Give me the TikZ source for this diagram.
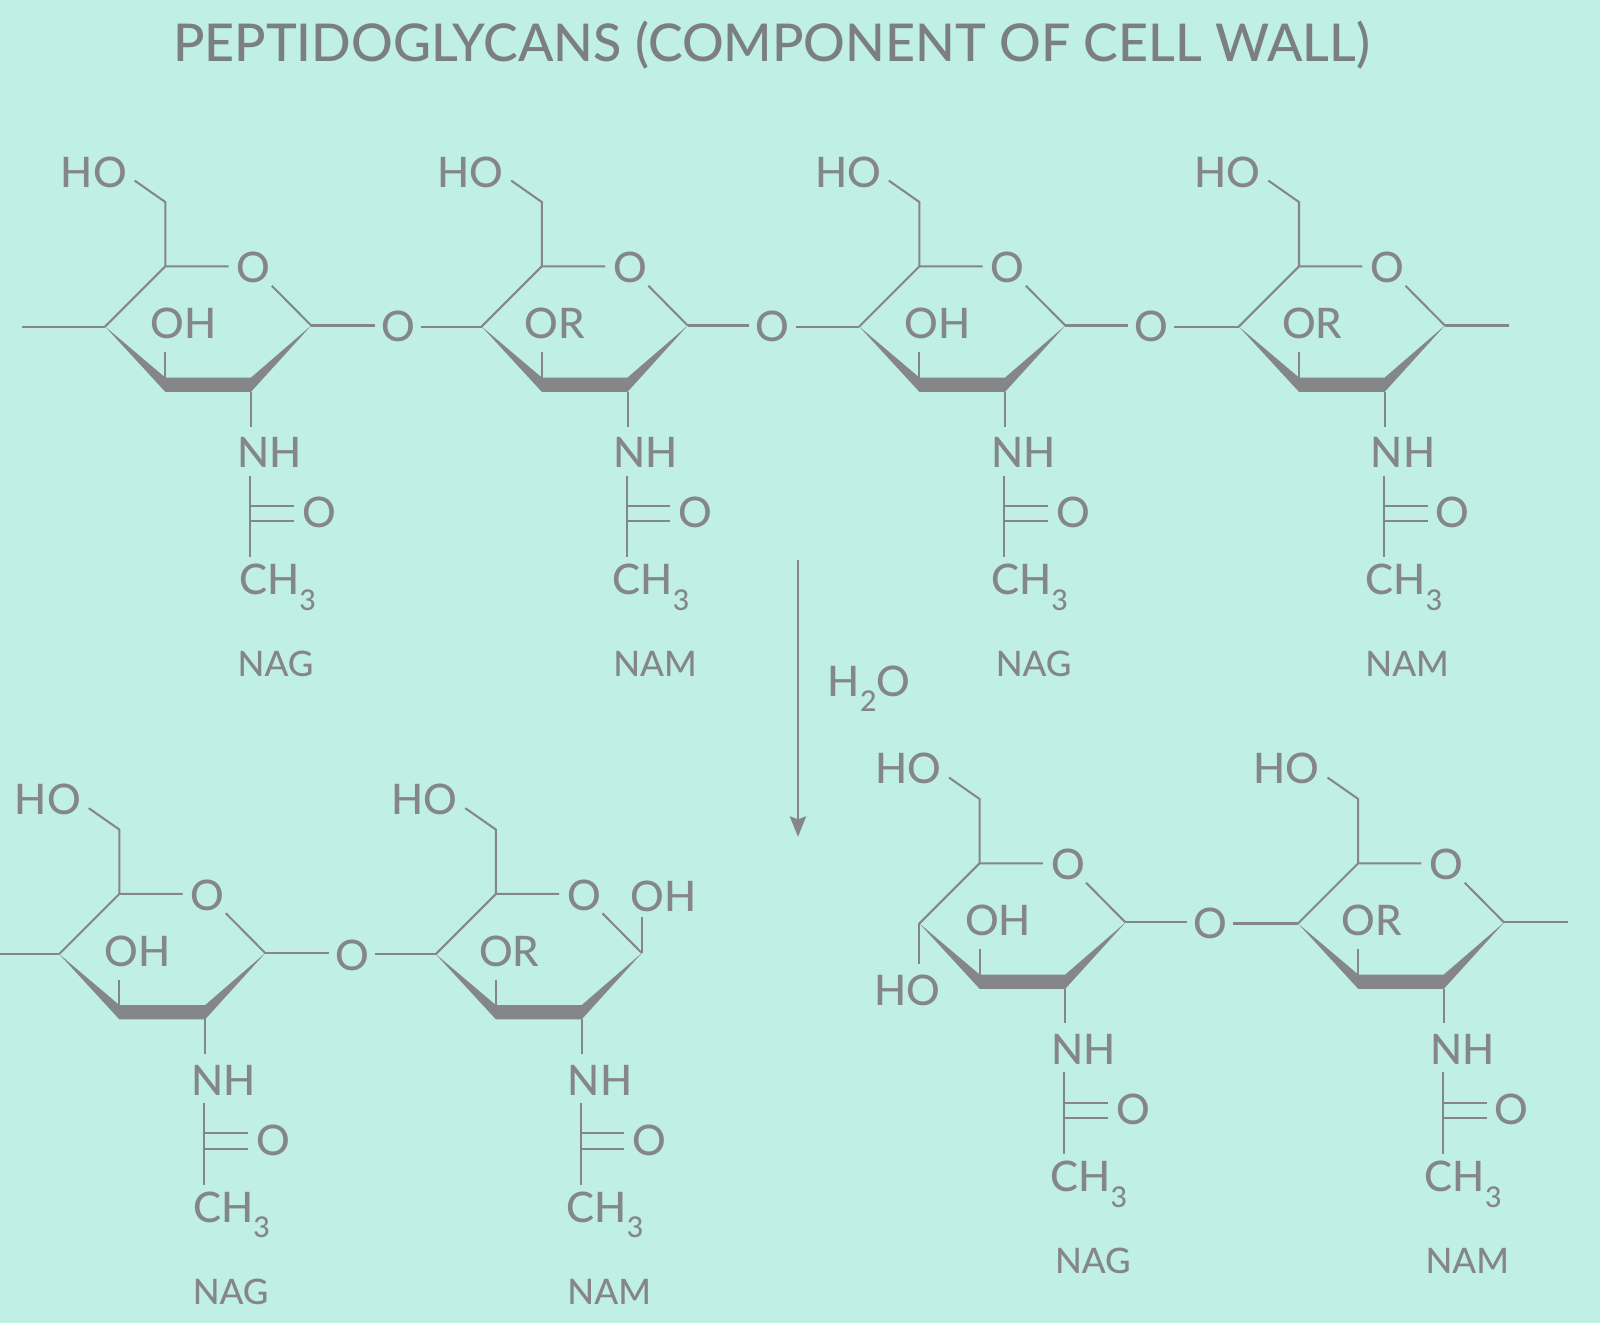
\documentclass[tikz,border=0pt]{standalone}
\usepackage{fontspec}
\setmainfont{Lato Medium}
\usetikzlibrary{arrows.meta}
\definecolor{bgmint}{HTML}{BFEFE5}
\definecolor{inkgray}{HTML}{858687}
\definecolor{titlegray}{HTML}{7B7F80}
\tikzset{
  bond/.style={draw=inkgray,line width=1pt},
  wedge/.style={fill=inkgray,draw=none},
  atom/.style={text=inkgray,inner sep=0pt,font=\fontsize{20.6}{21}\selectfont},
  roundatom/.style={atom,circle,minimum size=50*0.5pt},
  bridgeatom/.style={atom,circle,minimum size=44*0.5pt},
  caption/.style={text=inkgray,inner sep=0pt,font=\fontsize{17.2}{18}\selectfont},
  headline/.style={text=titlegray,inner sep=0pt,font=\fontsize{25.5}{27}\selectfont},
}
% #1 name, #2 x, #3 y, #4 OH/OR, #5 x offset of CH3, #6 caption, #7 x offset of caption
\newcommand{\sugarunit}[7]{%
\begin{scope}[shift={(#2,#3)},name prefix=#1-]
  \coordinate (L) at (0,0);
  \coordinate (TL) at (59,-59);
  \coordinate (R) at (202,-1);
  \coordinate (BLt) at (59,50);
  \coordinate (BRt) at (143,50);
  \coordinate (BLb) at (59,64);
  \coordinate (BRb) at (143,64);
  \coordinate (CH2) at (59,-122);
  \coordinate (HOend) at (29,-143);
  \coordinate (subOH) at (59,25);
  \coordinate (Nend) at (143,98);
  \coordinate (Ctop) at (142,146);
  \coordinate (Cbot) at (142,226);
  \coordinate (Dau) at (142,175.5);
  \coordinate (Dbu) at (185,175.5);
  \coordinate (Dal) at (142,191);
  \coordinate (Dbl) at (185,191);
  \node[atom] (HO) at (-11,-151.5) {HO};
  \node[roundatom] (O) at (145.5,-58) {O};
  \coordinate (Oleft) at (121,-59);
  \node[atom] (sub) at ({\ifnum\pdfstrcmp{#4}{OR}=0 72\else 77\fi},-3) {#4};
  \node[atom] (NH) at (161,123.5) {NH};
  \node[atom] (CO) at (209.5,182.5) {O};
  \node[atom,anchor=base west] (CH) at (#5-1,263) {CH\raisebox{-7.5pt}{\fontsize{14}{14}\selectfont 3}};
  \node[caption] (cap) at (#7,331) {#6};
  \fill[wedge] (L) -- (BLt) -- (BRt) -- (R) -- (BRb) -- (BLb) -- cycle;
  \draw[bond] (L) -- (TL) -- (Oleft);
  \draw[bond] (O) -- (R);
  \draw[bond] (HOend) -- (CH2) -- (TL);
  \draw[bond] (subOH) -- (BLt);
  \draw[bond] (BRb) -- (Nend);
  \draw[bond] (Ctop) -- (Cbot);
  \draw[bond] (Dau) -- (Dbu);
  \draw[bond] (Dal) -- (Dbl);
\end{scope}}
\begin{document}
\begin{tikzpicture}[x=0.5pt,y=-0.5pt]
\path[fill=bgmint] (0,0) rectangle (1568,1296.5);
\useasboundingbox (0,0) rectangle (1568,1296.5);

\node[headline,anchor=base] (title) at (756,60.5) {PEPTIDOGLYCANS (COMPONENT OF CELL WALL)};

\sugarunit{a}{103}{320}{OH}{132}{NAG}{167}
\sugarunit{b}{472}{320}{OR}{129}{NAM}{170}
\sugarunit{c}{842}{320}{OH}{130}{NAG}{171}
\sugarunit{d}{1214}{320}{OR}{125}{NAM}{165}
\sugarunit{e}{58}{935}{OH}{132}{NAG}{168}
\sugarunit{f}{427}{935}{OR}{129}{NAM}{170}
\sugarunit{g}{901}{905}{OH}{129}{NAG}{170}
\sugarunit{h}{1272}{905}{OR}{125}{NAM}{166}

% glycosidic bridges
\node[bridgeatom] (ab) at (390,320) {O};
\node[bridgeatom] (bc) at (757,320) {O};
\node[bridgeatom] (cd) at (1128,320) {O};
\node[bridgeatom] (ef) at (345,936) {O};
\node[bridgeatom] (gh) at (1186,905) {O};
\draw[bond] (a-R) -- (ab.west |- a-R); \draw[bond] (ab.east |- b-L) -- (b-L);
\draw[bond] (b-R) -- (bc.west |- b-R); \draw[bond] (bc.east |- c-L) -- (c-L);
\draw[bond] (c-R) -- (cd.west |- c-R); \draw[bond] (cd.east |- d-L) -- (d-L);
\draw[bond] (e-R) -- (ef.west |- e-R); \draw[bond] (ef.east |- f-L) -- (f-L);
\draw[bond] (g-R) -- (gh.west |- g-R); \draw[bond] (gh.east |- h-L) -- (h-L);

% free chain ends
\coordinate (aStub) at (22,320);
\coordinate (dStub) at (1479,319);
\coordinate (eStub) at (0,935);
\coordinate (hStub) at (1537,904);
\draw[bond] (aStub) -- (a-L);
\draw[bond] (d-R) -- (dStub);
\draw[bond] (eStub) -- (e-L);
\draw[bond] (h-R) -- (hStub);

% reducing ends after hydrolysis
\node[atom] (fOH) at (650,878.5) {OH};
\coordinate (fOHtop) at (629,899);
\draw[bond] (f-R) -- (fOHtop);
\node[atom] (gHO) at (889,971) {HO};
\coordinate (gHOend) at (901,945);
\draw[bond] (g-L) -- (gHOend);

% reaction arrow
\coordinate (arrowTop) at (782,549);
\coordinate (arrowTip) at (782,820);
\draw[bond,-{Stealth[length=10pt,width=8pt,inset=1.5pt]}] (arrowTop) -- (arrowTip);
\node[atom,anchor=base west] (water) at (811,682.5) {H\raisebox{-7.5pt}{\fontsize{14}{14}\selectfont 2}O};
\end{tikzpicture}
\end{document}
